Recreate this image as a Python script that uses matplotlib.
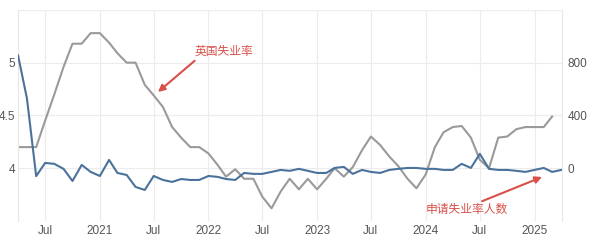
import matplotlib.pyplot as plt
import pandas as pd

plt.rcParams['font.family'] = ['Liberation Sans', 'Noto Sans CJK SC', 'DejaVu Sans']

# UK unemployment rate (%), Apr 2020 - Mar 2025, left axis
rate_months = pd.date_range('2020-04-01', '2025-03-01', freq='MS')
unemployment_rate = [
    4.2, 4.2, 4.2, 4.45, 4.7, 4.96, 5.18, 5.18, 5.28,
    5.28, 5.19, 5.09, 5.0, 5.0, 4.79, 4.69, 4.58, 4.39, 4.29, 4.2, 4.2,
    4.14, 4.03, 3.92, 3.99, 3.9, 3.9, 3.73, 3.62, 3.78, 3.9, 3.8, 3.9,
    3.8, 3.9, 4.0, 3.92, 4.01, 4.17, 4.3, 4.22, 4.11, 4.02, 3.9, 3.81,
    3.94, 4.2, 4.34, 4.39, 4.4, 4.29, 4.08, 4.0, 4.29, 4.3, 4.37, 4.39,
    4.39, 4.39, 4.49,
]

# claimant count change (thousands), Apr 2020 - Apr 2025, right axis
claim_months = pd.date_range('2020-04-01', '2025-04-01', freq='MS')
claimant_change = [
    856, 528, -60, 40, 33, -5, -97, 25, -28,
    -59, 63, -36, -51, -142, -165, -59, -89, -104, -82, -89, -89,
    -59, -66, -82, -89, -36, -43, -43, -28, -13, -20, -5, -20,
    -36, -36, 2, 10, -43, -13, -28, -36, -13, -5, 2, 2,
    -5, -5, -13, -13, 33, 2, 109, -5, -13, -13, -20, -28,
    -13, 2, -28, -13,
]

fig = plt.figure(figsize=(6.01, 2.48), dpi=100)
ax = fig.add_axes([0.030, 0.109, 0.905, 0.851])
ax2 = ax.twinx()

ax.plot(rate_months, unemployment_rate, color='#9a9a9a', lw=1.5)
ax2.plot(claim_months, claimant_change, color='#4b729b', lw=1.5)

ax.set_xlim(pd.Timestamp('2020-04-01'), pd.Timestamp('2025-04-03'))
ax.set_ylim(3.5, 5.5)
ax2.set_ylim(-400, 1200)

ax.set_yticks([3.5, 4, 4.5, 5, 5.5])
ax.set_yticklabels(['', '4', '4.5', '5', ''])
ax2.set_yticks([-400, 0, 400, 800, 1200])
ax2.set_yticklabels(['', '0', '400', '800', ''])

xticks = pd.date_range('2020-07-01', '2025-01-01', freq='6MS')
ax.set_xticks(xticks)
ax.set_xticklabels([d.strftime('%Y') if d.month == 1 else 'Jul' for d in xticks])

for a in (ax, ax2):
    a.tick_params(length=0, labelsize=8.5, colors='#555555', pad=3)
    for s in a.spines.values():
        s.set_visible(False)
ax.tick_params(axis='y', pad=2)
ax2.tick_params(axis='y', pad=4)
ax.spines['left'].set_visible(True)
ax.spines['left'].set_color('#e8e8e8')
ax2.spines['right'].set_visible(True)
ax2.spines['right'].set_color('#e8e8e8')

ax.grid(True, color='#ececec', lw=0.8)
ax.set_axisbelow(True)

red = '#d9504a'
ax.annotate('英国失业率', xy=(158, 156), xycoords='figure pixels',
            xytext=(195, 196), textcoords='figure pixels',
            fontsize=8.5, color=red, va='center', ha='left',
            arrowprops=dict(arrowstyle='-|>', color=red, lw=1.5,
                            shrinkA=0, shrinkB=0, mutation_scale=10,
                            relpos=(0.05, 0.0)))
ax.annotate('申请失业率人数', xy=(542, 71), xycoords='figure pixels',
            xytext=(467, 38), textcoords='figure pixels',
            fontsize=8.5, color=red, va='center', ha='center',
            arrowprops=dict(arrowstyle='-|>', color=red, lw=1.5,
                            shrinkA=0, shrinkB=0, mutation_scale=10,
                            relpos=(0.6, 1.0)))

fig.savefig('out.png', dpi=100)
